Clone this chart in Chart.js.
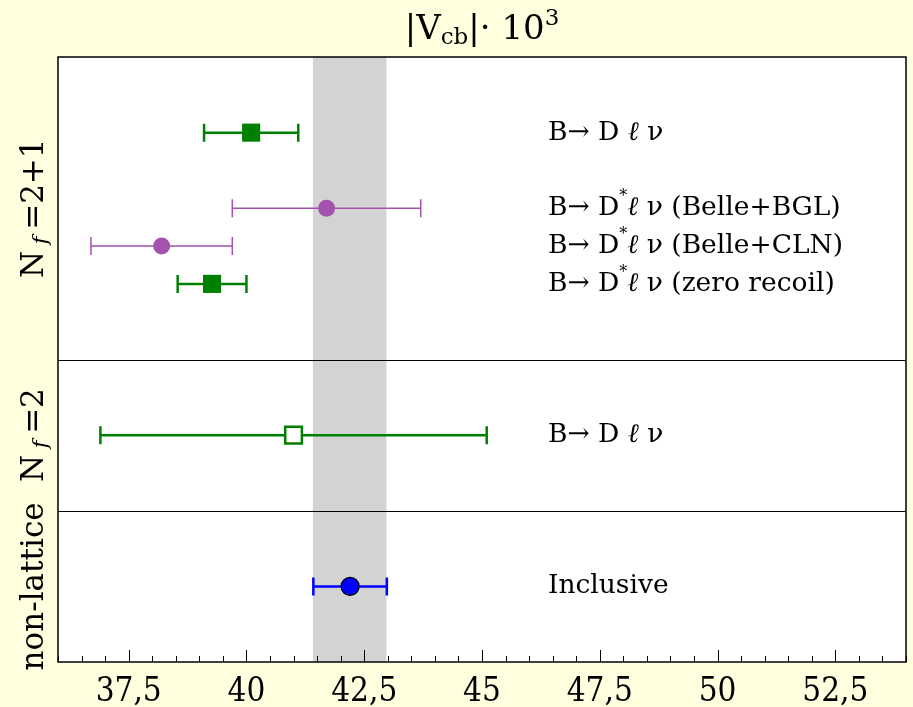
<!DOCTYPE html>
<html>
<head>
<meta charset="utf-8">
<script src="https://cdn.jsdelivr.net/npm/chart.js@4"></script>
<style>
  html, body { margin: 0; padding: 0; background: #ffffe0; overflow: hidden; }
  #wrap { width: 913px; height: 707px; }
  canvas { display: block; }
</style>
</head>
<body>
<div id="wrap"><canvas id="chart1" width="913" height="707"></canvas></div>
<script>
// valores (|Vcb| x 10^3)
const rows = [2, 4, 5, 6, 10, 14];
const central = [40.1, 41.7, 38.2, 39.27, 41.0, 42.2];
const errLo = [1.0, 2.0, 1.5, 0.73, 4.1, 0.78];
const errHi = [1.0, 2.0, 1.5, 0.73, 4.1, 0.78];
const groups = ['greenFull', 'purple', 'purple', 'greenFull', 'greenOpen', 'blue'];
// etiquetas: [texto antes, superindice, texto despues]
const labels = [
  ['B\u2192 D \u2113 \u03bd', '', ''],
  ['B\u2192 D', '*', '\u2113 \u03bd (Belle+BGL)'],
  ['B\u2192 D', '*', '\u2113 \u03bd (Belle+CLN)'],
  ['B\u2192 D', '*', '\u2113 \u03bd (zero recoil)'],
  ['B\u2192 D \u2113 \u03bd', '', ''],
  ['Inclusive', '', '']
];
const sections = [
  { from: 0, to: 8, name: 'N', sub: 'f', rest: '=2+1' },
  { from: 8, to: 12, name: 'N', sub: 'f', rest: '=2' },
  { from: 12, to: 16, name: 'non-lattice', sub: '', rest: '' }
];
const separators = [8, 12];
const band = [41.41, 42.97];
const labelX = 46.4;
const xMin = 36, xMax = 54;

const styles = {
  greenFull: { color: '#008000', lw: 2.5, style: 'rect', r: 12.8, fill: '#008000', bw: 0 },
  purple: { color: '#a352ad', lw: 1.5, style: 'circle', r: 8.5, fill: '#a352ad', bw: 0 },
  greenOpen: { color: '#008000', lw: 2.5, style: 'rect', r: 11.8, fill: '#ffffff', bw: 2.5 },
  blue: { color: '#0000ff', lw: 2.5, style: 'circle', r: 9, fill: '#0000ff', bw: 1.2, border: '#000000' }
};

const serif = '"DejaVu Serif", serif';

function buildDatasets() {
  let ds = [];
  let names = ['greenFull', 'purple', 'greenOpen', 'blue'];
  for (let n of names) {
    let st = styles[n];
    let data = [];
    for (let i = 0; i < rows.length; i++) {
      if (groups[i] == n) data.push({ x: central[i], y: rows[i] });
    }
    ds.push({
      label: n,
      data: data,
      pointStyle: st.style,
      pointRadius: st.r,
      pointHoverRadius: st.r,
      backgroundColor: st.fill,
      borderColor: st.border ? st.border : st.color,
      borderWidth: st.bw,
      showLine: false
    });
  }
  return ds;
}

// separa el texto para poner la ele en cursiva
function splitEll(txt, size) {
  let out = [];
  let trozos = txt.split('\u2113');
  for (let i = 0; i < trozos.length; i++) {
    if (i > 0) out.push({ t: '\u2113', size: size, italic: true });
    if (trozos[i]) out.push({ t: trozos[i], size: size });
  }
  return out;
}

// dibuja texto con partes (sub/superindices)
function richWidth(ctx, parts) {
  let w = 0;
  for (let p of parts) {
    ctx.font = (p.italic ? 'italic ' : '') + p.size + 'px ' + serif;
    w += ctx.measureText(p.t).width;
  }
  return w;
}
function drawRich(ctx, parts, x, y) {
  for (let p of parts) {
    ctx.font = (p.italic ? 'italic ' : '') + p.size + 'px ' + serif;
    ctx.fillText(p.t, x, y + (p.dy || 0));
    x += ctx.measureText(p.t).width;
  }
}

const fondo = {
  id: 'fondo',
  beforeDraw(chart) {
    const { ctx, chartArea: a, scales: { x } } = chart;
    ctx.save();
    ctx.fillStyle = '#ffffe0';
    ctx.fillRect(0, 0, chart.width, chart.height);
    ctx.fillStyle = '#ffffff';
    ctx.fillRect(a.left, a.top, a.right - a.left, a.bottom - a.top);
    ctx.fillStyle = '#d3d3d3';
    let x0 = x.getPixelForValue(band[0]), x1 = x.getPixelForValue(band[1]);
    ctx.fillRect(x0, a.top, x1 - x0, a.bottom - a.top);
    ctx.restore();
  },
  beforeDatasetsDraw(chart) {
    const { ctx, chartArea: a, scales: { x, y } } = chart;
    ctx.save();
    // separadores
    ctx.strokeStyle = '#000';
    ctx.lineWidth = 1;
    for (let s of separators) {
      let py = Math.round(y.getPixelForValue(s)) + 0.5;
      ctx.beginPath();
      ctx.moveTo(a.left, py);
      ctx.lineTo(a.right, py);
      ctx.stroke();
    }
    // barras de error
    for (let i = 0; i < rows.length; i++) {
      let st = styles[groups[i]];
      let py = y.getPixelForValue(rows[i]);
      let xl = x.getPixelForValue(central[i] - errLo[i]);
      let xr = x.getPixelForValue(central[i] + errHi[i]);
      ctx.strokeStyle = st.color;
      ctx.lineWidth = st.lw;
      ctx.beginPath();
      ctx.moveTo(xl, py); ctx.lineTo(xr, py);
      ctx.moveTo(xl, py - 9); ctx.lineTo(xl, py + 9);
      ctx.moveTo(xr, py - 9); ctx.lineTo(xr, py + 9);
      ctx.stroke();
    }
    ctx.restore();
  },
  afterDraw(chart) {
    const { ctx, chartArea: a, scales: { x, y } } = chart;
    ctx.save();
    // marco
    ctx.strokeStyle = '#000';
    ctx.lineWidth = 1.5;
    ctx.strokeRect(a.left, a.top, a.right - a.left, a.bottom - a.top);
    // ticks hacia adentro
    ctx.lineWidth = 1;
    for (let t of x.ticks) {
      let px = Math.round(x.getPixelForValue(t.value)) + 0.5;
      let major = Math.abs(t.value / 2.5 - Math.round(t.value / 2.5)) < 1e-6;
      let len = major ? 12 : 6;
      ctx.beginPath();
      ctx.moveTo(px, a.bottom);
      ctx.lineTo(px, a.bottom - len);
      ctx.stroke();
    }
    // etiquetas de los puntos
    ctx.fillStyle = '#000';
    ctx.textBaseline = 'middle';
    ctx.textAlign = 'left';
    let lx = x.getPixelForValue(labelX);
    for (let i = 0; i < labels.length; i++) {
      let py = y.getPixelForValue(rows[i]);
      let parts = splitEll(labels[i][0], 26.5);
      if (labels[i][1]) parts.push({ t: labels[i][1], size: 16, dy: -11 });
      if (labels[i][2]) parts.push(...splitEll(labels[i][2], 26.5));
      drawRich(ctx, parts, lx, py);
    }
    // titulo
    let tparts = [
      { t: '|V', size: 34 },
      { t: 'cb', size: 23, dy: 8 },
      { t: '|\u00b7 10', size: 34 },
      { t: '3', size: 23, dy: -11 }
    ];
    let tw = richWidth(ctx, tparts);
    drawRich(ctx, tparts, (a.left + a.right) / 2 - tw / 2, 30);
    // etiquetas de secciones (rotadas)
    for (let s of sections) {
      let cy = (y.getPixelForValue(s.from) + y.getPixelForValue(s.to)) / 2;
      let parts = [{ t: s.name, size: 31 }];
      if (s.sub) parts.push({ t: ' ' + s.sub + ' ', size: 21, italic: true, dy: 7 });
      if (s.rest) parts.push({ t: s.rest, size: 31 });
      let w = richWidth(ctx, parts);
      ctx.save();
      ctx.translate(35, cy);
      ctx.rotate(-Math.PI / 2);
      drawRich(ctx, parts, -w / 2, 0);
      ctx.restore();
    }
    ctx.restore();
  }
};

function drawChart() {
  let canva = document.getElementById('chart1').getContext('2d');
  new Chart(canva, {
    type: 'scatter',
    data: { datasets: buildDatasets() },
    plugins: [fondo],
    options: {
      responsive: false,
      animation: false,
      layout: { autoPadding: false, padding: { top: 57, right: 7, left: 0, bottom: 0 } },
      plugins: { legend: { display: false }, tooltip: { enabled: false }, title: { display: false } },
      scales: {
        x: {
          type: 'linear',
          min: xMin,
          max: xMax,
          border: { display: false },
          grid: { display: false },
          afterFit: function (s) {
            s.height = 45;
            s.paddingLeft = 0;
            s.paddingRight = 0;
          },
          afterBuildTicks: function (s) {
            let t = [];
            for (let v = xMin; v <= xMax + 1e-9; v += 0.5) t.push({ value: v });
            s.ticks = t;
          },
          ticks: {
            autoSkip: false,
            maxRotation: 0,
            padding: 3,
            color: '#000',
            font: { family: '"DejaVu Serif Condensed", "DejaVu Serif", serif', size: 33 },
            callback: function (v) {
              if (Math.abs(v / 2.5 - Math.round(v / 2.5)) > 1e-6 || v == xMin || v == xMax) return '';
              return String(v).replace('.', ',');
            }
          }
        },
        y: {
          type: 'linear',
          min: 0,
          max: 16,
          reverse: true,
          border: { display: false },
          grid: { display: false },
          ticks: { display: false },
          afterFit: function (s) { s.width = 58; }
        }
      }
    }
  });
}
drawChart();
</script>
</body>
</html>
